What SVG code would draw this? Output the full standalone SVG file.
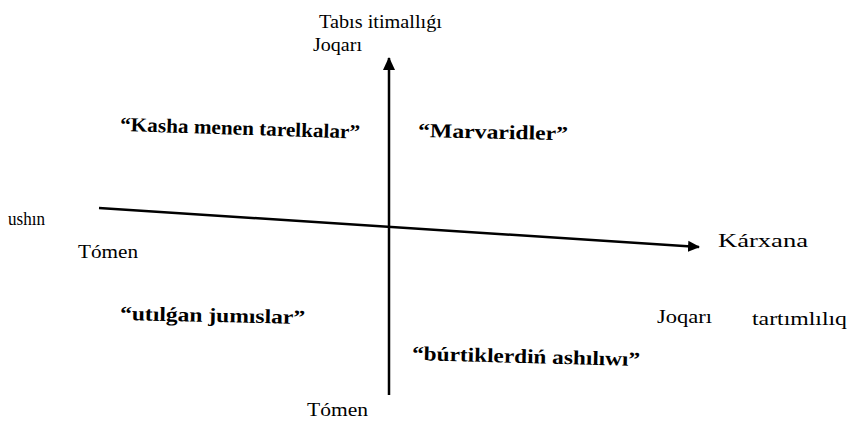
<svg xmlns="http://www.w3.org/2000/svg" width="849" height="441" viewBox="0 0 849 441">
<style>
.lbl{font-family:"Liberation Serif","Times New Roman",serif;font-size:19px;fill:#000;}
.q{font-family:"Liberation Serif","Times New Roman",serif;font-size:20px;font-weight:bold;fill:#000;}
.ax{stroke:#000;stroke-width:2.5;fill:none;}
</style>
<defs>
<marker id="ah" markerWidth="12" markerHeight="12" refX="11" refY="6" orient="auto" markerUnits="userSpaceOnUse" viewBox="0 0 12 12">
<path d="M0,0.5 L12,6 L0,11.5 z" fill="#000"/>
</marker>
<marker id="ah2" markerWidth="13" markerHeight="13" refX="12" refY="6.5" orient="auto" markerUnits="userSpaceOnUse" viewBox="0 0 13 13">
<path d="M0,0.5 L13,6.5 L0,12.5 z" fill="#000"/>
</marker>
</defs>
<g id="connectors">
<line class="ax" x1="389" y1="395" x2="389" y2="58" marker-end="url(#ah2)"/>
<line class="ax" x1="99" y1="208" x2="699" y2="247" marker-end="url(#ah)"/>
</g>
<g id="axis-y-title"><text class="lbl" x="319" y="28" textLength="123" lengthAdjust="spacingAndGlyphs">Tabıs itimallıǵı</text></g>
<g id="axis-y-high"><text class="lbl" x="313" y="51" textLength="49" lengthAdjust="spacingAndGlyphs">Joqarı</text></g>
<g id="axis-y-low"><text class="lbl" x="307" y="416" textLength="61" lengthAdjust="spacingAndGlyphs">Tómen</text></g>
<g id="axis-x-left"><text class="lbl" x="8" y="225" textLength="37" lengthAdjust="spacingAndGlyphs">ushın</text></g>
<g id="axis-x-low"><text class="lbl" x="78" y="258" textLength="60" lengthAdjust="spacingAndGlyphs">Tómen</text></g>
<g id="axis-x-title"><text class="lbl" x="718" y="247" textLength="90" lengthAdjust="spacingAndGlyphs">Kárxana</text></g>
<g id="axis-x-high"><text class="lbl" x="657" y="323" textLength="55" lengthAdjust="spacingAndGlyphs">Joqarı</text></g>
<g id="axis-x-title2"><text class="lbl" x="752" y="325" textLength="95" lengthAdjust="spacingAndGlyphs">tartımlılıq</text></g>
<g id="q-top-left"><text class="q" x="120" y="131" textLength="240" lengthAdjust="spacingAndGlyphs" transform="rotate(1.8 120 131)">“Kasha menen tarelkalar”</text></g>
<g id="q-top-right"><text class="q" x="418" y="137" textLength="150" lengthAdjust="spacingAndGlyphs" transform="rotate(1.2 418 137)">“Marvaridler”</text></g>
<g id="q-bottom-left"><text class="q" x="120" y="320" textLength="185" lengthAdjust="spacingAndGlyphs" transform="rotate(1.2 120 320)">“utılǵan jumıslar”</text></g>
<g id="q-bottom-right"><text class="q" x="412" y="360" textLength="228" lengthAdjust="spacingAndGlyphs" transform="rotate(1.5 412 360)">“búrtiklerdiń ashılıwı”</text></g>
</svg>
